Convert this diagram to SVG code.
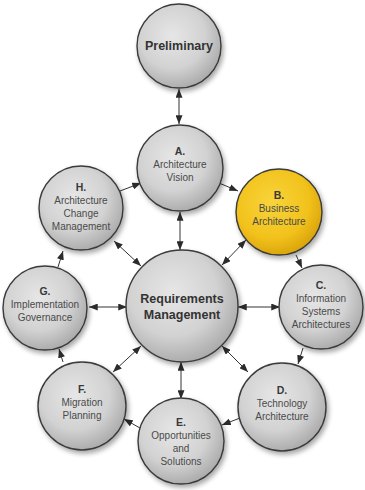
<svg xmlns="http://www.w3.org/2000/svg" width="365" height="490" viewBox="0 0 365 490">
  <defs>
    <radialGradient id="gray" cx="0.42" cy="0.38" r="0.65">
      <stop offset="0" stop-color="#e6e6e6"/>
      <stop offset="0.6" stop-color="#d2d2d2"/>
      <stop offset="1" stop-color="#a9a9a9"/>
    </radialGradient>
    <radialGradient id="gold" cx="0.42" cy="0.38" r="0.65">
      <stop offset="0" stop-color="#f8d43a"/>
      <stop offset="0.65" stop-color="#f2c21c"/>
      <stop offset="1" stop-color="#d9a20a"/>
    </radialGradient>
    <filter id="shadow" x="-30%" y="-30%" width="160%" height="160%">
      <feGaussianBlur in="SourceAlpha" stdDeviation="2.5"/>
      <feOffset dx="2" dy="3" result="b"/>
      <feComponentTransfer><feFuncA type="linear" slope="0.35"/></feComponentTransfer>
      <feMerge><feMergeNode/><feMergeNode in="SourceGraphic"/></feMerge>
    </filter>
    <marker id="head" viewBox="0 0 10 8" refX="10" refY="4" markerWidth="9" markerHeight="7" markerUnits="userSpaceOnUse" orient="auto-start-reverse">
      <path d="M0,0 L10,4 L0,8 Z" fill="#2b2b2b"/>
    </marker>
  </defs>
  <style>
    .node { stroke: #3a3a3a; stroke-width: 1.4; filter: url(#shadow); }
    .g { fill: url(#gray); }
    .y { fill: url(#gold); }
    .big { font-family: "Liberation Sans", Arial, sans-serif; font-weight: bold; font-size: 12.5px; fill: #333; text-anchor: middle; }
    .ltr { font-family: "Liberation Sans", Arial, sans-serif; font-weight: bold; font-size: 10.5px; fill: #3a3a3a; text-anchor: middle; }
    .lbl { font-family: "Liberation Sans", Arial, sans-serif; font-size: 10px; fill: #4a4a4a; text-anchor: middle; }
    .one { stroke: #333; stroke-width: 1; fill: none; marker-end: url(#head); }
    .two { stroke: #333; stroke-width: 1; fill: none; marker-start: url(#head); marker-end: url(#head); }
  </style>

  <g id="connectors">
    <!-- Preliminary and centre links -->
    <line class="two" x1="179" y1="89" x2="179" y2="124"/>
    <line class="two" x1="180" y1="212" x2="180" y2="250"/>
    <line class="two" x1="114" y1="241" x2="141" y2="266"/>
    <line class="two" x1="246" y1="240" x2="222" y2="265"/>
    <line class="two" x1="89" y1="307" x2="127" y2="307"/>
    <line class="two" x1="238" y1="307" x2="280" y2="307"/>
    <line class="two" x1="113" y1="372" x2="141" y2="346"/>
    <line class="two" x1="222" y1="346" x2="248" y2="372"/>
    <line class="two" x1="181" y1="362" x2="181" y2="399"/>
    <!-- Cycle A to H -->
    <line class="one" x1="219" y1="183" x2="238" y2="191"/>
    <line class="one" x1="296" y1="255" x2="302" y2="268"/>
    <line class="one" x1="303" y1="348" x2="298" y2="364"/>
    <line class="one" x1="240" y1="418" x2="222" y2="425"/>
    <line class="one" x1="140" y1="428" x2="124" y2="419"/>
    <line class="one" x1="63" y1="362" x2="59" y2="349"/>
    <line class="one" x1="58" y1="267" x2="63" y2="251"/>
    <line class="one" x1="120" y1="191" x2="141" y2="183"/>
  </g>

  <g id="preliminary">
    <circle class="node g" cx="179" cy="46" r="42"/>
    <text class="big" x="179" y="50">Preliminary</text>
  </g>

  <g id="phase-a">
    <circle class="node g" cx="180" cy="168" r="43"/>
    <text class="ltr" x="180" y="155">A.</text>
    <text class="lbl" x="180" y="168">Architecture</text>
    <text class="lbl" x="180" y="181">Vision</text>
  </g>

  <g id="phase-b">
    <circle class="node y" cx="279" cy="212" r="43"/>
    <text class="ltr" x="279" y="199">B.</text>
    <text class="lbl" x="279" y="212">Business</text>
    <text class="lbl" x="279" y="225">Architecture</text>
  </g>

  <g id="phase-c">
    <circle class="node g" cx="321" cy="307" r="42"/>
    <text class="ltr" x="321" y="289">C.</text>
    <text class="lbl" x="321" y="302">Information</text>
    <text class="lbl" x="321" y="315">Systems</text>
    <text class="lbl" x="321" y="328">Architectures</text>
  </g>

  <g id="phase-d">
    <circle class="node g" cx="282" cy="407" r="44"/>
    <text class="ltr" x="282" y="394">D.</text>
    <text class="lbl" x="282" y="407">Technology</text>
    <text class="lbl" x="282" y="420">Architecture</text>
  </g>

  <g id="phase-e">
    <circle class="node g" cx="181" cy="441" r="43"/>
    <text class="ltr" x="181" y="426">E.</text>
    <text class="lbl" x="181" y="439">Opportunities</text>
    <text class="lbl" x="181" y="452">and</text>
    <text class="lbl" x="181" y="465">Solutions</text>
  </g>

  <g id="phase-f">
    <circle class="node g" cx="82" cy="406" r="44"/>
    <text class="ltr" x="82" y="393">F.</text>
    <text class="lbl" x="82" y="406">Migration</text>
    <text class="lbl" x="82" y="419">Planning</text>
  </g>

  <g id="phase-g">
    <circle class="node g" cx="45" cy="308" r="42"/>
    <text class="ltr" x="45" y="295">G.</text>
    <text class="lbl" x="45" y="308">Implementation</text>
    <text class="lbl" x="45" y="321">Governance</text>
  </g>

  <g id="phase-h">
    <circle class="node g" cx="81" cy="208" r="42"/>
    <text class="ltr" x="81" y="191">H.</text>
    <text class="lbl" x="81" y="204">Architecture</text>
    <text class="lbl" x="81" y="217">Change</text>
    <text class="lbl" x="81" y="230">Management</text>
  </g>

  <g id="requirements">
    <circle class="node g" cx="182" cy="306" r="56"/>
    <text class="big" x="182" y="303">Requirements</text>
    <text class="big" x="182" y="319">Management</text>
  </g>
</svg>
